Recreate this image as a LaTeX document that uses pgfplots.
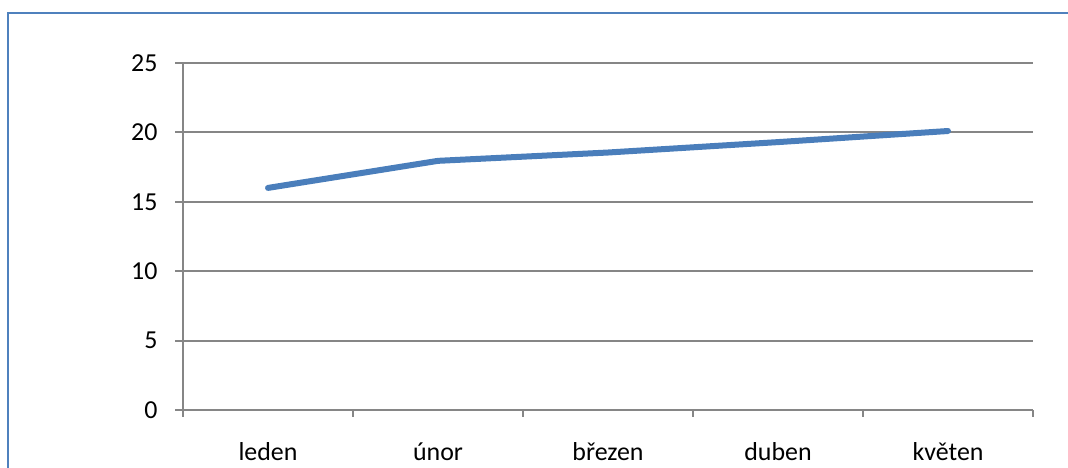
\documentclass[border=0pt]{standalone}
\usepackage{pgfplots}
\pgfplotsset{compat=1.18}
\usepackage{fontspec}
\setmainfont{Carlito}
\definecolor{frameblue}{HTML}{4F81BD}
\definecolor{linecol}{HTML}{4A7EBB}
\definecolor{gridgrey}{HTML}{868686}
\begin{document}
\begin{tikzpicture}[x=1bp,y=1bp]
\path[use as bounding box] (0,0) rectangle (1068,468);
\begin{scope}
\clip (0,0) rectangle (1068,468);
\draw[frameblue, line width=2.5bp] (8,-20) rectangle (1090,455);
\end{scope}
\begin{axis}[
  at={(183bp,58bp)}, anchor=south west,
  scale only axis, width=850bp, height=347bp,
  xmin=-0.5, xmax=4.5, ymin=0, ymax=25,
  ytick={0,5,...,25},
  xtick={0,1,2,3,4},
  xticklabels={leden,únor,březen,duben,květen},
  axis x line*=bottom, axis y line*=left,
  axis line style={gridgrey, line width=2bp, -},
  ymajorgrids, major grid style={gridgrey, line width=2bp},
  tick align=outside,
  xtick style={draw=none},
  ytick style={gridgrey, line width=2bp},
  major tick length=8bp,
  extra x ticks={-0.5,0.5,1.5,2.5,3.5,4.5}, extra x tick labels={},
  extra x tick style={xtick style={draw=gridgrey, line width=2bp}, major tick length=7bp, grid=none},
  ticklabel style={font=\fontsize{26}{30}\selectfont},
  xticklabel style={yshift=-21bp},
  yticklabel style={xshift=-14bp},
  /pgf/number format/assume math mode=true,
  clip=false,
]
\addplot[linecol, line width=6bp, line cap=round, line join=round]
  coordinates {(0,16.0) (1,17.95) (2,18.55) (3,19.3) (4,20.1)};
\end{axis}
\end{tikzpicture}
\end{document}
